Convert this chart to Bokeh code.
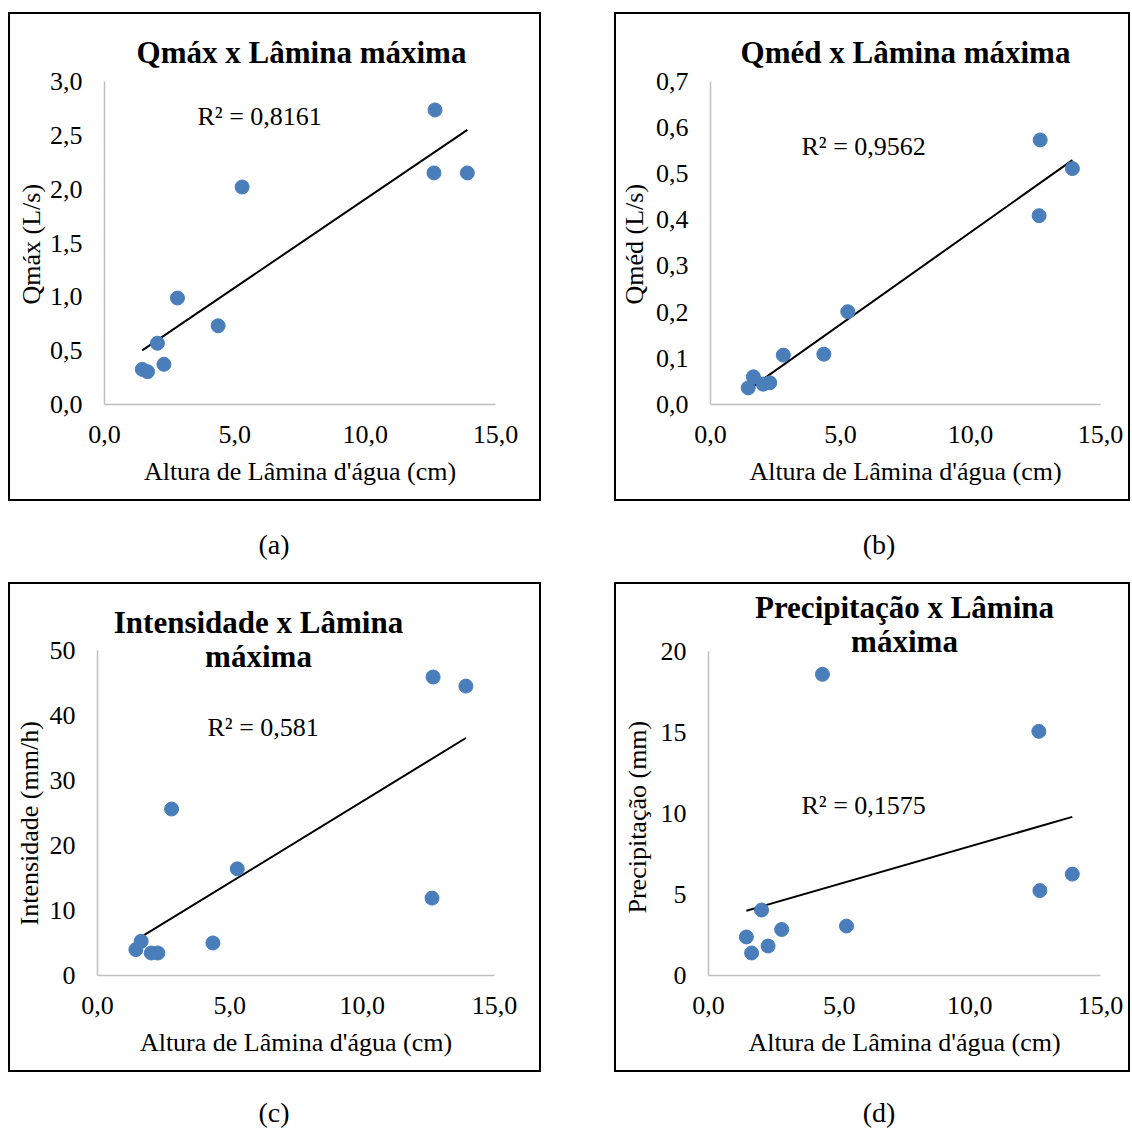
import numpy as np
from bokeh.plotting import figure
from bokeh.layouts import column, row
from bokeh.models import Label, Title, FixedTicker, CustomJSTickFormatter, Div, Range1d
from bokeh.embed import file_html
from bokeh.resources import INLINE

# ---- data ----
altura = [1.45, 1.65, 2.03, 2.28, 2.80, 4.36, 5.28, 12.68, 12.64, 13.92]
qmax = [0.326, 0.305, 0.569, 0.373, 0.989, 0.731, 2.02, 2.736, 2.151, 2.151]
qmed = [0.036, 0.060, 0.044, 0.047, 0.107, 0.109, 0.201, 0.573, 0.409, 0.511]
intensidade = [3.98, 5.27, 3.46, 3.46, 25.6, 5.0, 16.4, 45.9, 11.9, 44.5]
precipitacao = [2.38, 1.39, 4.04, 1.82, 2.84, 18.59, 3.05, 5.24, 15.07, 6.26]

x_ticks = [0, 5, 10, 15]
r2_texts = ["R² = 0,8161", "R² = 0,9562", "R² = 0,581", "R² = 0,1575"]

FONT = "Liberation Serif"
BLUE = "#4A7EBB"
TICK_PX = "26px"
TITLE_PX = "31px"


def make_panel(y, ymax, ystep, ydec, ylabel, ylabel_off, ylabel_st,
               title_lines, title_x, title_ys, r2_text, r2_x, r2_y,
               width, height, borders, top_px, margin):
    left, right, bottom = borders
    frame_b = height - bottom                       # frame bottom (canvas px)
    y_end = ymax * frame_b / (frame_b - top_px)     # frame reaches canvas top
    p = figure(width=width, height=height, output_backend="svg", toolbar_location=None,
               x_range=Range1d(0, 15), y_range=Range1d(0, y_end),
               min_border_left=left, min_border_right=right,
               min_border_top=0, min_border_bottom=bottom,
               background_fill_color="white", border_fill_color="white",
               outline_line_color=None, margin=margin,
               styles={"border": "2px solid black", "box-sizing": "border-box"})
    p.grid.visible = False

    p.xaxis.ticker = FixedTicker(ticks=x_ticks)
    p.xaxis.formatter = CustomJSTickFormatter(code="return tick.toFixed(1).replace('.', ',')")
    yt = list(np.round(np.arange(0, ymax + ystep / 2, ystep), 4))
    p.yaxis.ticker = FixedTicker(ticks=yt)
    p.yaxis.formatter = CustomJSTickFormatter(
        code="return tick.toFixed(%d).replace('.', ',')" % ydec)
    p.yaxis.bounds = (0, ymax)

    for ax in (p.xaxis[0], p.yaxis[0]):
        ax.axis_line_color = "#BFBFBF"
        ax.axis_line_width = 1.5
        ax.major_tick_line_color = None
        ax.minor_tick_line_color = None
        ax.major_tick_out = 0
        ax.minor_tick_out = 0
        ax.major_tick_in = 0
        ax.minor_tick_in = 0
        ax.major_label_text_font = FONT
        ax.major_label_text_font_size = TICK_PX
        ax.major_label_text_color = "black"
        ax.axis_label_text_font = FONT
        ax.axis_label_text_font_size = TICK_PX
        ax.axis_label_text_font_style = "normal"
        ax.axis_label_text_color = "black"
    p.xaxis.axis_label = "Altura de Lâmina d'água (cm)"
    p.xaxis.major_label_standoff = 21
    p.xaxis.axis_label_standoff = 11
    p.yaxis.major_label_standoff = 22

    # y-axis title as a side Title so it can sit centred on the 0..ymax span
    p.add_layout(Title(text=ylabel, align="left", offset=ylabel_off, vertical_align="middle",
                       standoff=ylabel_st, text_font=FONT, text_font_size=TICK_PX,
                       text_font_style="normal", text_color="black"), "left")

    coef = np.polyfit(altura, y, 1)
    xs = [min(altura), max(altura)]
    p.line(xs, list(np.polyval(coef, xs)), line_color="black", line_width=2)
    p.scatter(altura, y, size=14, fill_color=BLUE, line_color=BLUE)

    for t, ty in zip(title_lines, title_ys):
        p.add_layout(Label(x=title_x, y=ty, x_units="canvas", y_units="canvas", text=t,
                           text_font=FONT, text_font_size=TITLE_PX, text_font_style="bold",
                           text_align="center", text_baseline="middle", text_color="black"))
    p.add_layout(Label(x=r2_x, y=r2_y, x_units="canvas", y_units="canvas", text=r2_text,
                       text_font=FONT, text_font_size=TICK_PX, text_align="left",
                       text_baseline="middle", text_color="black"))
    return p


pa = make_panel(qmax, 3.0, 0.5, 1, "Qmáx (L/s)", 100, 0,
                ["Qmáx x Lâmina máxima"], 289, [36],
                r2_texts[0], 185, 100, 533, 489, (94, 48, 99), 67, (12, 0, 0, 8))
pb = make_panel(qmed, 0.7, 0.1, 1, "Qméd (L/s)", 100, 5,
                ["Qméd x Lâmina máxima"], 287, [36],
                r2_texts[1], 183, 130, 516, 489, (93, 32, 98), 67, (12, 0, 0, 73))
pc = make_panel(intensidade, 50, 10, 0, "Intensidade (mm/h)", 50, 4,
                ["Intensidade x Lâmina", "máxima"], 246, [36, 70],
                r2_texts[2], 195, 141, 533, 490, (87, 49, 98), 66, (0, 0, 0, 8))
pd = make_panel(precipitacao, 20, 5, 0, "Precipitação (mm)", 62, 10,
                ["Precipitação x Lâmina", "máxima"], 286, [21, 55],
                r2_texts[3], 183, 219, 516, 490, (89, 32, 99), 67, (0, 0, 0, 73))


def cap(txt, top, h, ml):
    return Div(text='<div style="font-family:\'Liberation Serif\';font-size:28px;'
                    'line-height:28px;text-align:center;width:100px;padding-top:%dpx">%s</div>'
                    % (top, txt), width=100, height=h, margin=(0, 0, 0, ml))


lab1 = row(cap("(a)", 30, 81, 224), cap("(b)", 30, 81, 505))
lab2 = row(cap("(c)", 27, 57, 224), cap("(d)", 27, 57, 505))

layout = column(row(pa, pb), lab1, row(pc, pd), lab2)
open("out.html", "w").write(file_html(layout, INLINE))
